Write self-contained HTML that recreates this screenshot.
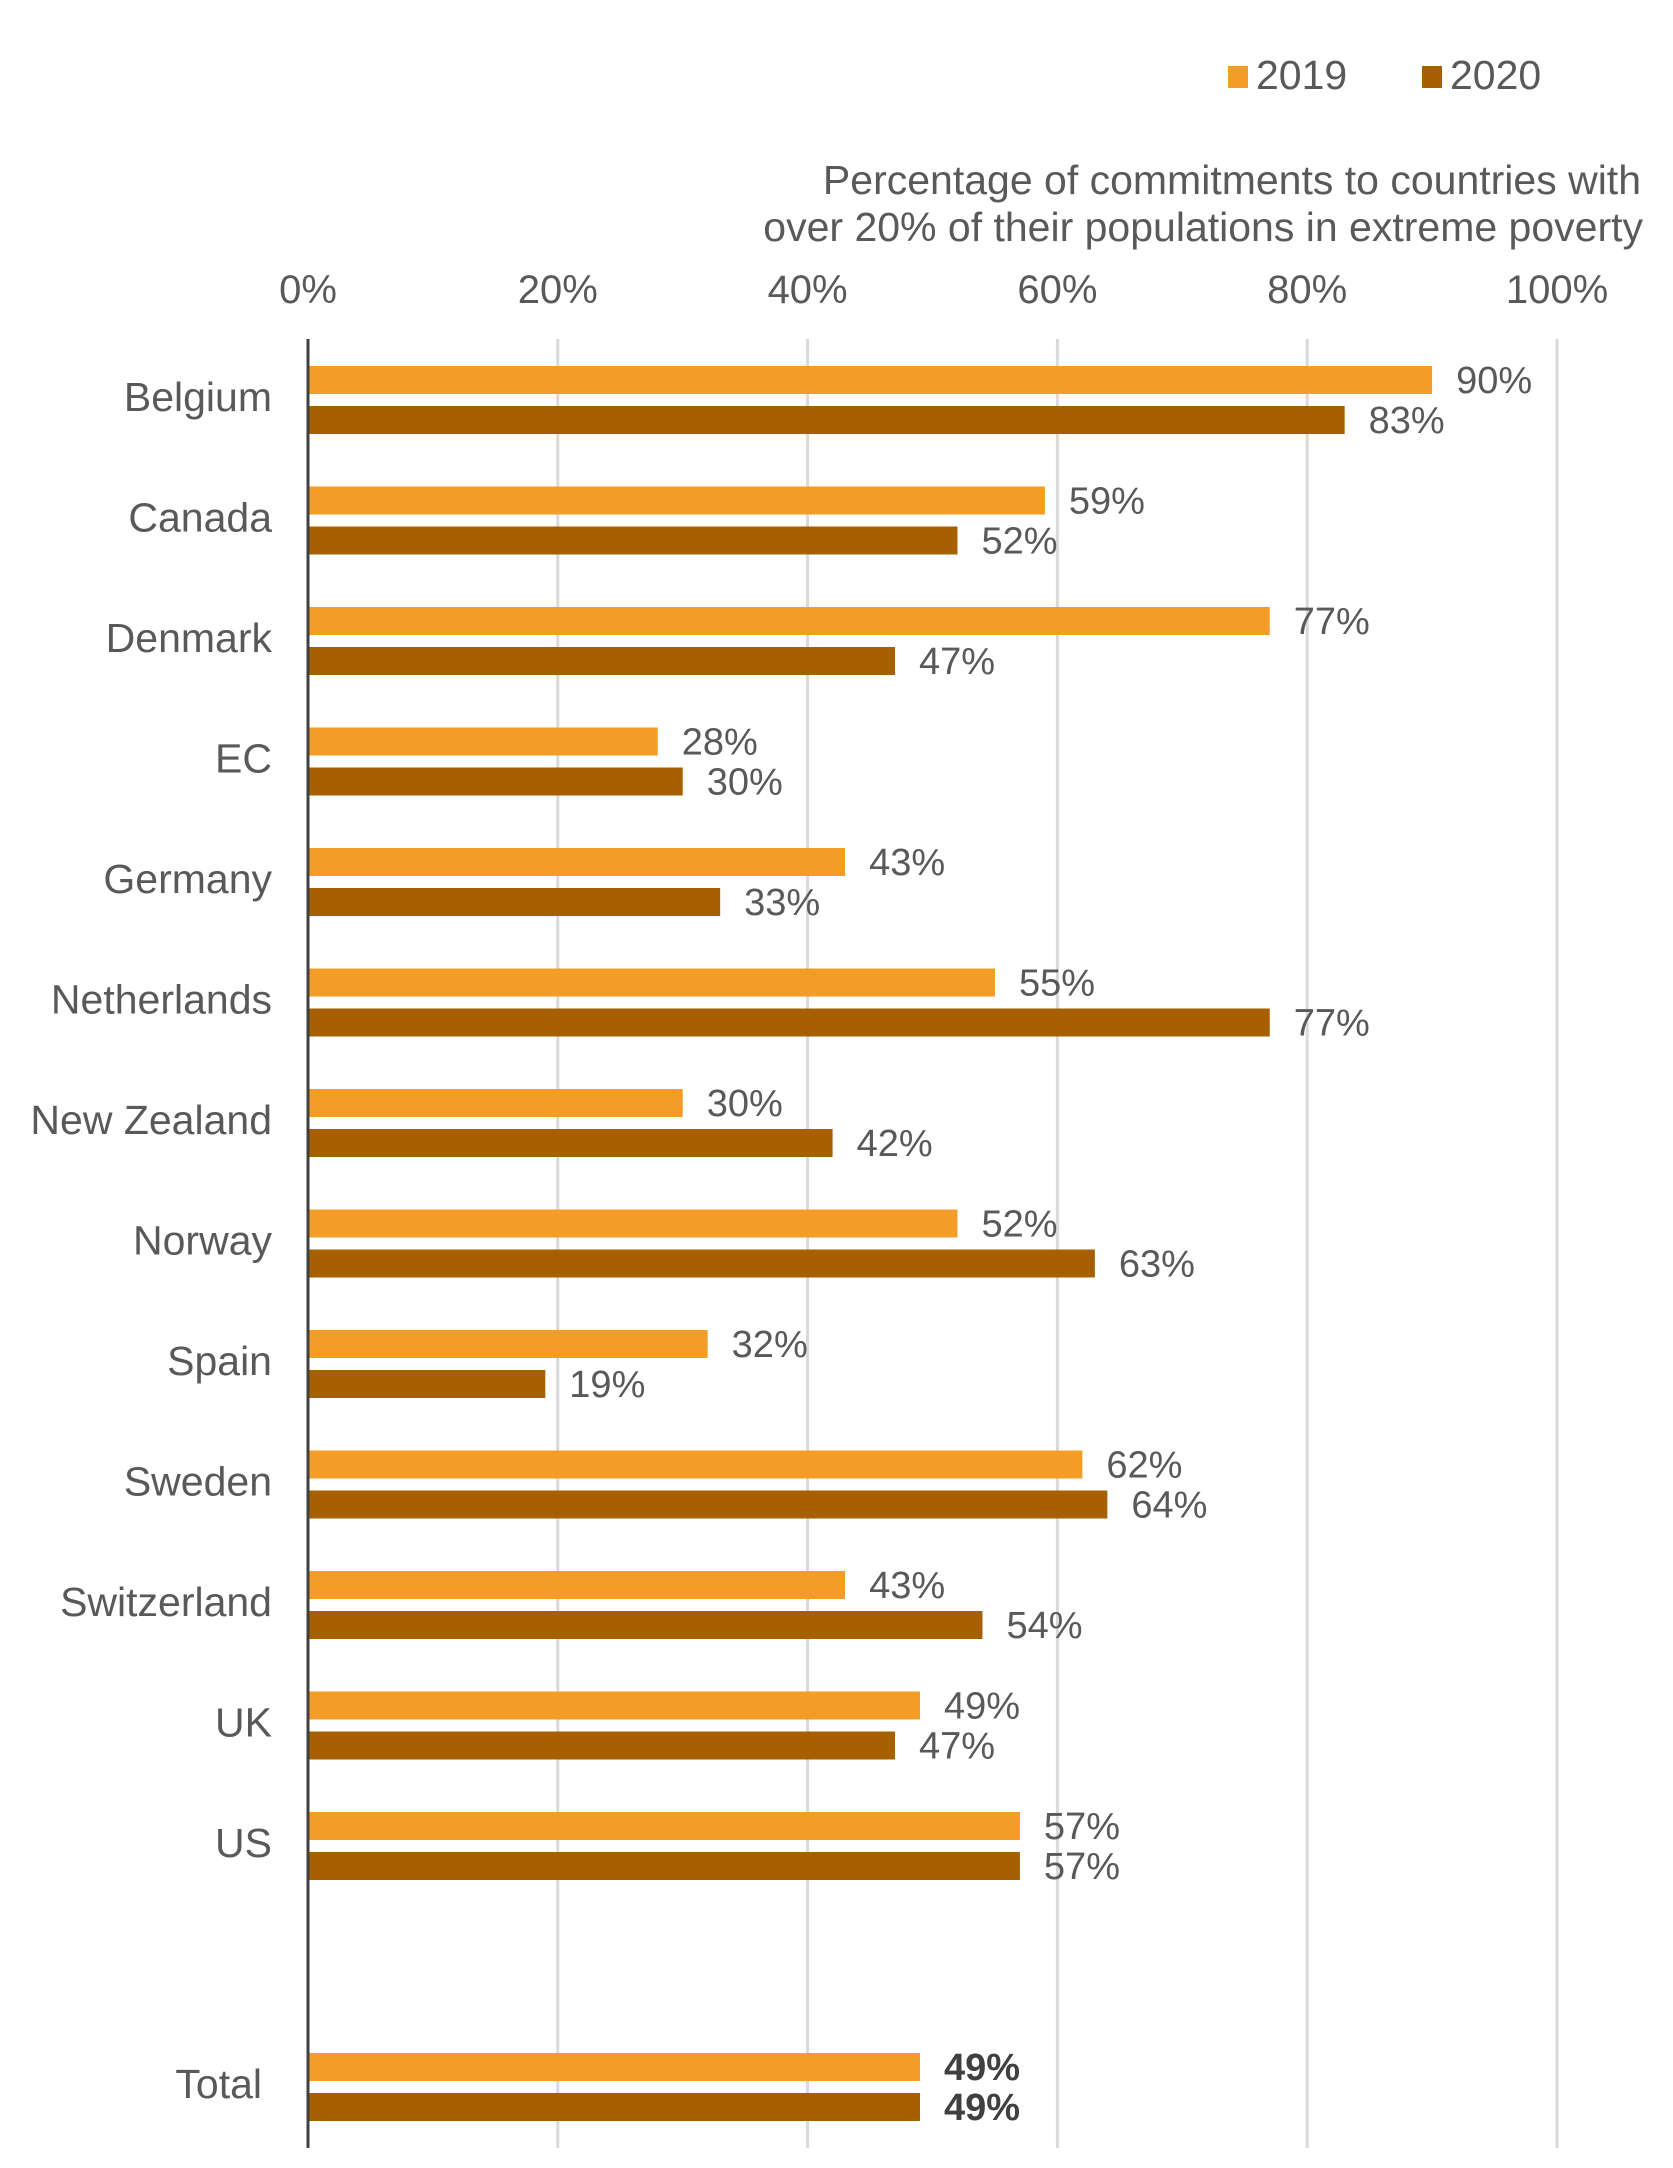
<!DOCTYPE html>
<html><head><meta charset="utf-8"><style>
html,body{margin:0;padding:0;background:#fff;}
svg{display:block;font-family:"Liberation Sans",Arial,sans-serif;}
</style></head><body>
<svg id="chart" width="1673" height="2168" viewBox="0 0 1673 2168" xmlns="http://www.w3.org/2000/svg">
<g>
<rect x="1228" y="66" width="20" height="22" fill="#F39C26"/>
<text x="1256" y="89" font-size="41" fill="#595959">2019</text>
<rect x="1422" y="66" width="20" height="22" fill="#A66000"/>
<text x="1450" y="89" font-size="41" fill="#595959">2020</text>
</g>
<text text-anchor="end" font-size="41" fill="#595959"><tspan x="1641" y="194">Percentage of commitments to countries with</tspan><tspan x="1643" y="241">over 20% of their populations in extreme poverty</tspan></text>
<g id="grid"></g><g id="bars"></g><g id="labels"></g>
</svg>
<script>
const categories=["Belgium","Canada","Denmark","EC","Germany","Netherlands","New Zealand","Norway","Spain","Sweden","Switzerland","UK","US","Total"];
const slots=[0,1,2,3,4,5,6,7,8,9,10,11,12,14];
const values2019=[90,59,77,28,43,55,30,52,32,62,43,49,57,49];
const values2020=[83,52,47,30,33,77,42,63,19,64,54,47,57,49];
const ticks=[0,20,40,60,80,100];
const tickLabels=["0%","20%","40%","60%","80%","100%"];
const NS="http://www.w3.org/2000/svg";
const x0=308,x1=1557;
const xs=v=>x0+(x1-x0)*v/100;
const ys=i=>366+120.5*i;
const barH=28;
function mk(t,a,p){const e=document.createElementNS(NS,t);for(const k in a)e.setAttribute(k,a[k]);p.appendChild(e);return e;}
const grid=document.getElementById('grid'),bars=document.getElementById('bars'),labels=document.getElementById('labels');
ticks.forEach((t,i)=>{
 if(i>0){const l=mk('line',{x1:xs(t),x2:xs(t),y1:339,y2:2148,stroke:'#D9D9D9','stroke-width':3},grid);
 
 }
 const tx=mk('text',{x:xs(t),y:303,'text-anchor':'middle','font-size':40,fill:'#595959'},grid);
 tx.textContent=tickLabels[i];
 
 
});
categories.forEach((c,i)=>{
 const y=ys(slots[i]);
 const bold=c==="Total";
 const cl=mk('text',{x:c==="Total"?262:272,y:y+45,'text-anchor':'end','font-size':41,fill:'#595959'},labels);
 cl.textContent=c;
 
 
 [[values2019[i],'#F39C26',0],[values2020[i],'#A66000',40]].forEach(([v,col,off])=>{
  const r=mk('rect',{x:x0,y:y+off,width:xs(v)-x0,height:barH,fill:col},bars);
  
  
  const vt=mk('text',{x:xs(v)+24,y:y+off+barH/2+13,'font-size':38,fill:bold?'#404040':'#595959','font-weight':bold?'bold':'normal'},labels);
  vt.textContent=v+"%";
  
  
 });
});
const ax=mk('line',{x1:x0,x2:x0,y1:339,y2:2148,stroke:'#404040','stroke-width':3},labels);


</script>
</body></html>
